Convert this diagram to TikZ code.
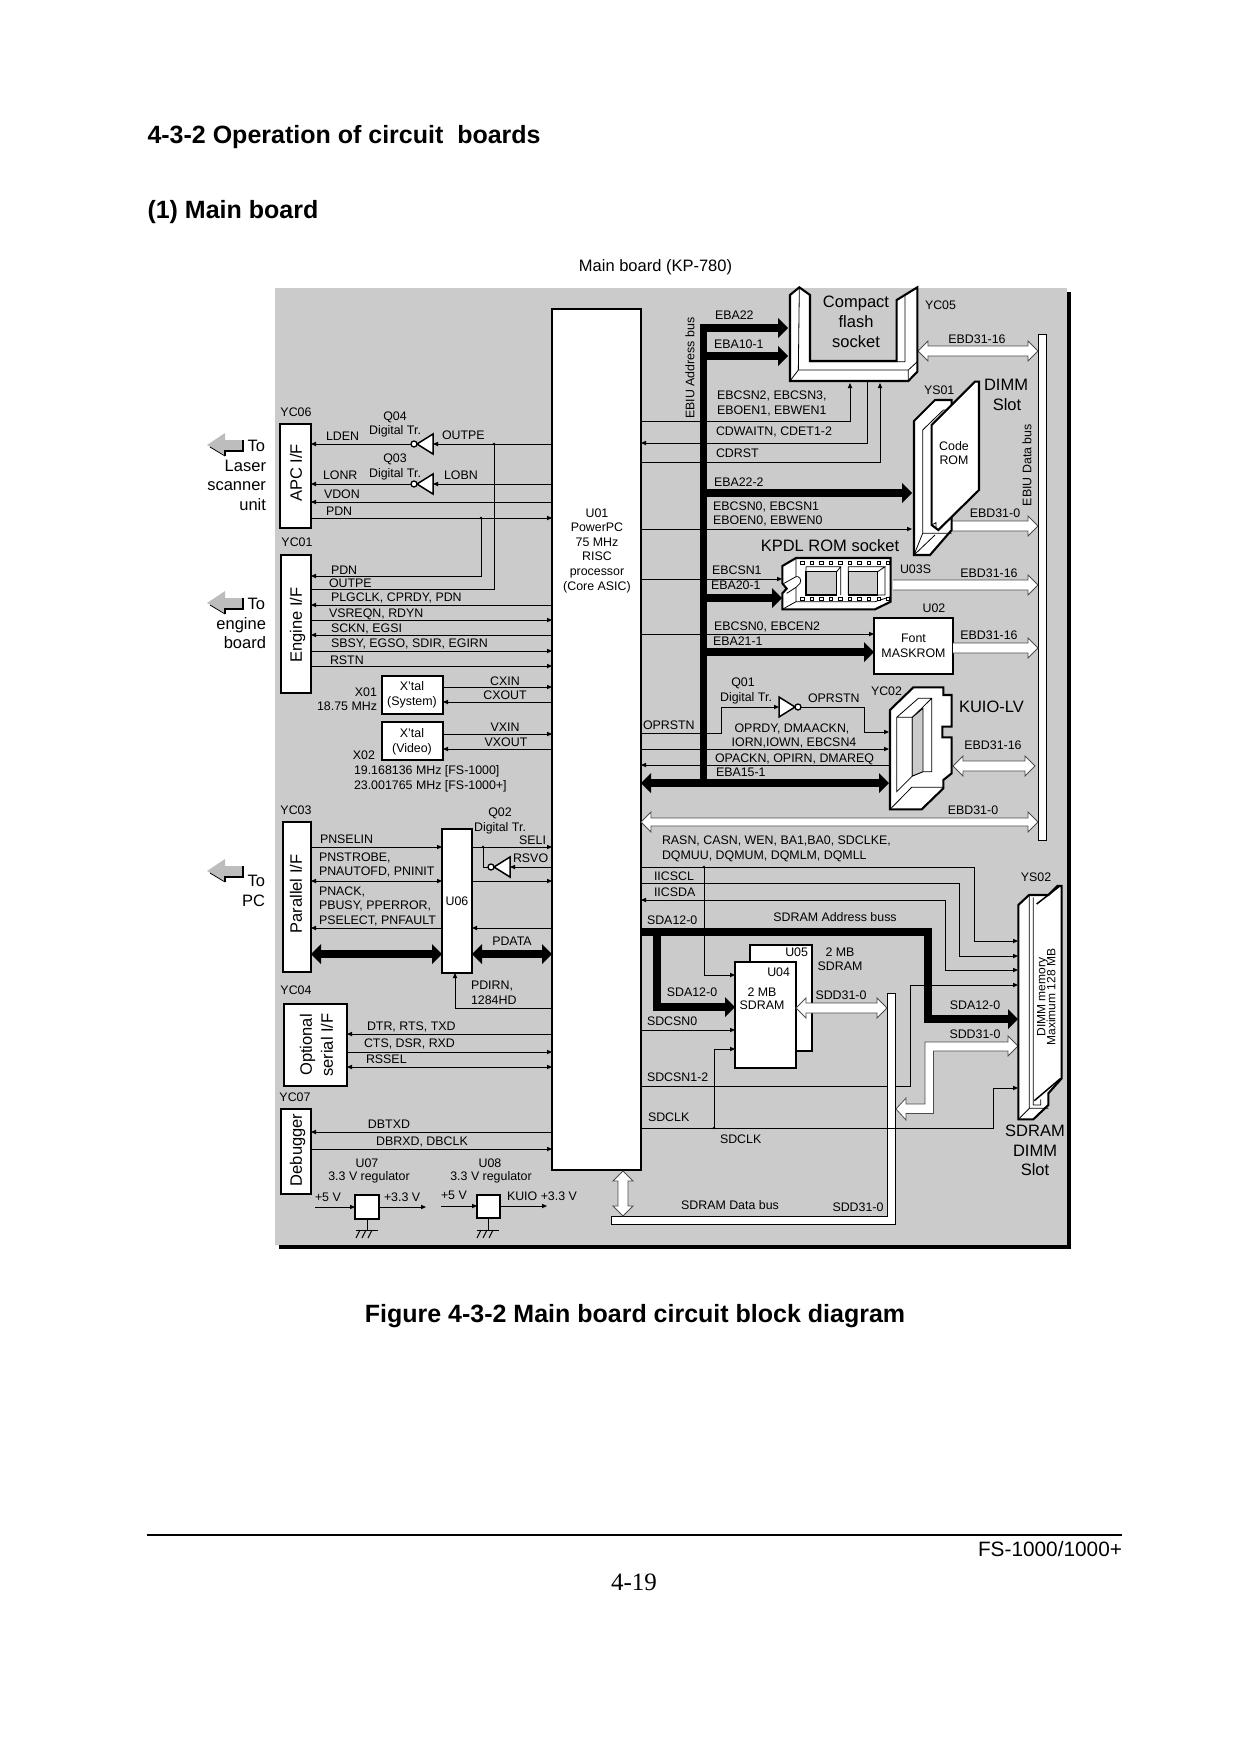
\documentclass[tikz,border=0pt]{standalone}
\usepackage{fontspec}
\setmainfont{Liberation Sans}
\newfontfamily\pgserif{Liberation Serif}
\usetikzlibrary{arrows.meta,calc}
\definecolor{boardgray}{HTML}{CBCBCB}
\definecolor{pointer}{HTML}{BDBDBD}
\tikzset{
  lbl/.style={inner sep=0pt,outer sep=0pt,font=\fontsize{12.4}{14.6}\selectfont,text height=8.9pt,text depth=0pt},
  lblg/.style={font=\fontsize{16.5}{19}\selectfont,text height=11.8pt},
  boxn/.style={draw,fill=white,line width=2.2pt,inner sep=0pt,outer sep=0pt,align=center,font=\fontsize{12.4}{14.6}\selectfont},
  wire/.style={line width=1pt},
  sig/.style={wire,-{Triangle[length=5pt,width=4.5pt,line width=0pt]}},
  sigb/.style={wire,{Triangle[length=5pt,width=4.5pt,line width=0pt]}-{Triangle[length=5pt,width=4.5pt,line width=0pt]}},
  tbus/.style={line width=8pt,line join=miter,-{Triangle[length=10pt,width=20pt,line width=0pt]}},
  tbusb/.style={line width=8pt,{Triangle[length=10pt,width=20pt,line width=0pt]}-{Triangle[length=10pt,width=20pt,line width=0pt]}},
  wbusl/.style={draw=black!70,fill=white,line width=.8pt,line join=miter},
  part/.style={draw,fill=white,line width=2.1pt,line join=miter},
  pin/.style={line width=.8pt},
  dot/.style={fill,inner sep=0pt,minimum size=2.6pt,circle},
}
\newcommand\mytl[5][]{\node[lbl,anchor=west,#1] (#2) at (#3,#4) {#5};}
\newcommand\mytc[5][]{\node[lbl,anchor=center,#1] (#2) at (#3,#4) {#5};}
\newcommand\mytr[5][]{\node[lbl,anchor=east,#1] (#2) at (#3,#4) {#5};}
\newcommand\mybox[6]{\node[boxn,minimum width={(#4-#2)*1pt},minimum height={(#5-#3)*1pt}] (#1) at ({(#2+#4)/2},{(#3+#5)/2}) {#6};}
\newcommand\mywbus[3][5]{%
  \coordinate (wA) at (#2); \coordinate (wB) at (#3);
  \coordinate (wC) at ($(wA)!10pt!(wB)$); \coordinate (wD) at ($(wB)!10pt!(wA)$);
  \draw[wbusl] (wA) -- ($(wC)!10pt!90:(wB)$) -- ($(wC)!#1pt!90:(wB)$) -- ($(wD)!#1pt!-90:(wA)$) -- ($(wD)!10pt!-90:(wA)$) -- (wB)
   -- ($(wD)!10pt!90:(wA)$) -- ($(wD)!#1pt!90:(wA)$) -- ($(wC)!#1pt!-90:(wB)$) -- ($(wC)!10pt!-90:(wB)$) -- cycle;}
\newcommand\mywtip[3][5]{%
  \coordinate (wA) at (#2); \coordinate (wB) at (#3);
  \coordinate (wD) at ($(wB)!10pt!(wA)$);
  \draw[wbusl] ($(wA)!#1pt!90:(wB)$) -- ($(wD)!#1pt!-90:(wA)$) -- ($(wD)!10pt!-90:(wA)$) -- (wB)
   -- ($(wD)!10pt!90:(wA)$) -- ($(wD)!#1pt!90:(wA)$) -- ($(wA)!#1pt!-90:(wB)$);}
\newcommand\myinvL[3]{%
  \draw[fill=white,line width=1.5pt,line join=miter] (#2,#3-10) -- (#2,#3+10) -- (#2-16,#3) -- cycle;
  \draw[fill=white,line width=1.3pt] (#2-19,#3) circle[radius=3];
  \coordinate (#1-in) at (#2,#3); \coordinate (#1-out) at (#2-22,#3);}
\newcommand\myinvR[3]{%
  \draw[fill=white,line width=1.5pt,line join=miter] (#2,#3-10) -- (#2,#3+10) -- (#2+16,#3) -- cycle;
  \draw[fill=white,line width=1.3pt] (#2+19,#3) circle[radius=3];
  \coordinate (#1-in) at (#2,#3); \coordinate (#1-out) at (#2+22,#3);}
\newcommand\mygnd[3]{%
  \draw[wire] (#1,#2) -- (#1,#3) (#1-11,#3) -- (#1+11,#3);
  \draw[wire] (#1-7,#3) -- (#1-11,#3+8) (#1-1,#3) -- (#1-5,#3+8) (#1+5,#3) -- (#1+1,#3+8);}
\newcommand\mypoint[2]{%
  \fill[pointer] (#1,#2) -- (#1+18,#2-12) -- (#1+18,#2-5) -- (#1+36,#2-5) -- (#1+36,#2+5) -- (#1+18,#2+5) -- (#1+18,#2+10) -- cycle;
  \draw[line width=1.7pt] (#1+36,#2-5) -- (#1+36,#2+6) -- (#1+18,#2+6) -- (#1+18,#2+11);
  \draw[line width=.8pt] (#1+18,#2+11) -- (#1+3,#2+2);}
\begin{document}
\begin{tikzpicture}[x=1pt,y=-1pt]
\useasboundingbox (0,0) rectangle (1240,1754);
\fill[white] (0,0) rectangle (1240,1754);
% page texts
\mytl[font=\bfseries\fontsize{25}{29}\selectfont,text height=17.9pt]{hone}{147.5}{135}{4-3-2 Operation of circuit\ \ boards}
\mytl[font=\bfseries\fontsize{25}{29}\selectfont,text height=17.9pt]{htwo}{147.5}{210}{(1) Main board}
\mytc[lblg]{mainb}{655.5}{266}{Main board (KP-780)}
\mytc[font=\bfseries\fontsize{25}{29}\selectfont,text height=17.9pt]{figcap}{635}{1314}{Figure 4-3-2 Main board circuit block diagram}
\coordinate (ruleL) at (147,1535); \coordinate (ruleR) at (1122,1535);
\draw[line width=1.7pt] (ruleL) -- (ruleR);
\mytr[font=\fontsize{20.8}{24}\selectfont,text height=15pt]{fsn}{1122}{1549}{FS-1000/1000+}
\mytc[font=\pgserif\fontsize{25}{29}\selectfont,text height=16.5pt]{pgno}{634}{1582}{4-19}
% board
\fill[black] (279,292) rectangle (1071,1249);
\fill[boardgray] (275,288) rectangle (1067,1245);
% pointers
\mypoint{207}{445}
\mypoint{207}{603}
\mypoint{207}{871}
\mytr[lblg]{tl1}{265}{446}{To}\mytr[lblg]{tl2}{266}{466}{Laser}\mytr[lblg]{tl3}{266}{485}{scanner}\mytr[lblg]{tl4}{266}{505}{unit}
\mytr[lblg]{te1}{265}{604}{To}\mytr[lblg]{te2}{266}{624}{engine}\mytr[lblg]{te3}{266}{643}{board}
\mytr[lblg]{tp1}{265}{881}{To}\mytr[lblg]{tp2}{265}{901}{PC}
% boxes, left
\node[boxn,line width=2.4pt,minimum width=89pt,minimum height=861pt] (u01) at (596.5,739.5) {};
\mybox{apc}{280}{424}{311}{528}{}
\mybox{eng}{281}{555}{311}{693}{}
\mybox{xsys}{382}{676}{443}{714}{}
\mybox{xvid}{382}{722}{443}{760}{}
\mybox{par}{283}{822}{311}{972}{}
\mybox{u06}{442}{829}{472}{973}{U06}
\mybox{ser}{284}{1004}{347}{1086}{}
\mybox{dbg}{281}{1109}{311}{1194}{}
\mybox{r07}{355}{1195}{379}{1219}{}
\mybox{r08}{477}{1195}{500}{1218}{}
\mytc[lblg,rotate=90]{apct}{296}{473}{APC I/F}
\mytc[lblg,rotate=90]{engt}{296}{625}{Engine I/F}
\mytc[lblg,rotate=90]{part}{296}{894}{Parallel I/F}
\mytc[lblg,rotate=90]{sert1}{306}{1045}{Optional}
\mytc[lblg,rotate=90]{sert2}{327}{1045}{serial I/F}
\mytc[lblg,rotate=90]{dbgt}{296}{1150}{Debugger}
\node[font=\fontsize{12.4}{14.6}\selectfont,align=center,inner sep=0pt] (u01t) at (597,550.5) {U01\\PowerPC\\75 MHz\\RISC\\processor\\(Core ASIC)};
\node[font=\fontsize{12.4}{14.8}\selectfont,align=center,inner sep=0pt] (xst) at (412,695) {X'tal\\(System)};
\node[font=\fontsize{12.4}{14.8}\selectfont,align=center,inner sep=0pt] (xvt) at (412,741.5) {X'tal\\(Video)};
% inverters
\myinvL{q04}{433}{444}
\myinvL{q03}{433}{484}
\myinvL{q02}{510}{867}
\myinvR{q01}{779}{707}
% left signals
\draw[sig] (u01.west|-0,444) -- (q04-in);
\draw[sig] (q04-out) -- (apc.east|-0,444);
\coordinate (jout) at (494,444);
\node[dot] (jouted) at (jout) {};
\draw[wire] (jout) -- (494,589) -- (eng.east|-0,589);
\draw[sig] (u01.west|-0,484) -- (q03-in);
\draw[sig] (q03-out) -- (apc.east|-0,484);
\draw[sig] (u01.west|-0,502) -- (apc.east|-0,502);
\draw[sig] (apc.east|-0,518) -- (u01.west|-0,518);
\coordinate (jpdn) at (481,518);
\node[dot] (jpdned) at (jpdn) {};
\draw[sig] (jpdn) -- (481,576) -- (eng.east|-0,576);
\draw[sig] (u01.west|-0,605) -- (eng.east|-0,605);
\draw[sig] (eng.east|-0,620) -- (u01.west|-0,620);
\draw[sig] (u01.west|-0,635) -- (eng.east|-0,635);
\draw[sig] (eng.east|-0,651) -- (u01.west|-0,651);
\draw[sig] (eng.east|-0,666) -- (u01.west|-0,666);
\draw[sig] (xsys.east|-0,687) -- (u01.west|-0,687);
\draw[sig] (u01.west|-0,702) -- (xsys.east|-0,702);
\draw[sig] (xvid.east|-0,734) -- (u01.west|-0,734);
\draw[sig] (u01.west|-0,749) -- (xvid.east|-0,749);
\draw[sig] (par.east|-0,847) -- (u06.west|-0,847);
\draw[sig] (u06.east|-0,847) -- (u01.west|-0,847);
\coordinate (jsel) at (483,847);
\node[dot] (jseled) at (jsel) {};
\draw[wire] (jsel) -- (483,867) -- (q02-out);
\draw[sig] (u01.west|-0,867) -- (q02-in);
\draw[sigb] (par.east|-0,881) -- (u06.west|-0,881);
\draw[sig] (u06.east|-0,881) -- (u01.west|-0,881);
\draw[sig] (u06.west|-0,928) -- (par.east|-0,928);
\draw[sig] (u01.west|-0,928) -- (u06.east|-0,928);
\draw[tbusb] (par.east|-0,954) -- (u06.west|-0,954);
\draw[tbusb] (u06.east|-0,954) -- (u01.west|-0,954);
\draw[sig] (u01.west|-0,1008) -- (455,1008) -- (u06.south-|455,0);
\draw[sig] (u01.west|-0,1034) -- (ser.east|-0,1034);
\draw[sig] (ser.east|-0,1052) -- (u01.west|-0,1052);
\draw[sigb] (ser.east|-0,1067) -- (u01.west|-0,1067);
\draw[sig] (u01.west|-0,1132) -- (dbg.east|-0,1132);
\draw[sig] (dbg.east|-0,1149) -- (u01.west|-0,1149);
\coordinate (in07) at (315,1207); \coordinate (out07) at (426,1207);
\coordinate (in08) at (441,1206); \coordinate (out08) at (547,1206);
\draw[sig] (in07) -- (r07.west|-in07);
\draw[sig] (r07.east|-out07) -- (out07);
\draw[sig] (in08) -- (r08.west|-in08);
\draw[sig] (r08.east|-out08) -- (out08);
\mygnd{367}{1219}{1230}
\mygnd{488}{1218}{1230}
% left labels
\mytc{yc06}{296}{412}{YC06}\mytc{yc01}{297}{542}{YC01}\mytc{yc03}{296}{810}{YC03}\mytc{yc04}{296}{990}{YC04}\mytc{yc07}{295}{1097}{YC07}
\mytl{ldeng}{326}{436}{LDEN}\mytc{q04t}{395}{416}{Q04}\mytc{q04d}{395}{430}{Digital Tr.}\mytl{outpa}{442}{435}{OUTPE}
\mytc{q03t}{395}{458}{Q03}\mytc{q03d}{395}{473}{Digital Tr.}\mytl{lonr}{323}{475}{LONR}\mytl{lobn}{444}{475}{LOBN}
\mytl{vdon}{324}{494}{VDON}\mytl{pdna}{326}{511}{PDN}\mytl{pdnb}{331}{570}{PDN}\mytl{outpb}{329}{583}{OUTPE}
\mytl{plg}{331}{597}{PLGCLK, CPRDY, PDN}\mytl{vsr}{329}{613}{VSREQN, RDYN}\mytl{sck}{331}{628}{SCKN, EGSI}\mytl{sbs}{331}{643}{SBSY, EGSO, SDIR, EGIRN}\mytl{rst}{330}{660}{RSTN}
\mytc{cxi}{505}{681}{CXIN}\mytc{cxo}{505}{695}{CXOUT}\mytc{vxi}{505}{727}{VXIN}\mytc{vxo}{506}{742}{VXOUT}
\mytc{x01}{366}{692}{X01}\mytr{x01f}{377}{706}{18.75 MHz}\mytc{x02}{364}{755}{X02}
\mytl{x02a}{354}{770}{19.168136 MHz [FS-1000]}\mytl{x02b}{354}{785}{23.001765 MHz [FS-1000+]}
\mytl{pns}{320}{839}{PNSELIN}\mytl{pnt}{319}{857}{PNSTROBE,}\mytl{pna}{319}{871}{PNAUTOFD, PNINIT}
\mytl{pnk}{319}{891}{PNACK,}\mytl{pbu}{319}{905}{PBUSY, PPERROR,}\mytl{pse}{319}{920}{PSELECT, PNFAULT}
\mytc{q02t}{500}{812}{Q02}\mytc{q02d}{500}{827}{Digital Tr.}\mytr{seli}{546}{840}{SELI}\mytl{rsvo}{513}{858}{RSVO}
\mytc{pdat}{512}{941}{PDATA}\mytl{pdir}{471}{985}{PDIRN,}\mytl{p128}{471}{1000}{1284HD}
\mytl{dtr}{367}{1026}{DTR, RTS, TXD}\mytl{cts}{364}{1043}{CTS, DSR, RXD}\mytl{rss}{366}{1059}{RSSEL}
\mytc{dbtx}{389}{1124}{DBTXD}\mytc{dbrx}{422}{1141}{DBRXD, DBCLK}
\mytc{u07}{367}{1163}{U07}\mytc{u07r}{369}{1176}{3.3 V regulator}\mytc{u08}{490}{1163}{U08}\mytc{u08r}{491}{1176}{3.3 V regulator}
\mytl{p5a}{315}{1197}{+5 V}\mytl{p33a}{384}{1197}{+3.3 V}\mytl{p5b}{441}{1195}{+5 V}\mytl{kui}{507}{1196}{KUIO +3.3 V}
% right rail
\node[draw,fill=white,line width=.9pt,inner sep=0pt,outer sep=0pt,minimum width=8pt,minimum height=506pt] (rail) at (1042,587) {};
\coordinate (ys02w) at (1018,0);
\coordinate (kuiow) at (889,0);
\coordinate (socketw) at (782,0);
\coordinate (dimmw) at (912,0);
% right signals
\draw[sig] (u01.east|-0,421) -- (850,421) -- (850,383);
\draw[sig] (867,381) -- (867,443) -- (u01.east|-0,443);
\draw[sig] (u01.east|-0,462) -- (880,462) -- (880,383);
\draw[sig] (u01.east|-0,529) -- (dimmw|-0,529);
\draw[sig] (u01.east|-0,579) -- (socketw|-0,579);
\mybox{fontr}{874}{618}{953}{674}{Font\\MASKROM}
\draw[sig] (u01.east|-0,634) -- (fontr.west|-0,634);
\draw[sig] (u01.east|-0,733) -- (721,733) -- (721,707) -- (q01-in);
\draw[sig] (q01-out) -- (864,707) -- (864,732) -- (kuiow|-0,732);
\draw[sig] (u01.east|-0,749) -- (kuiow|-0,749);
\draw[sig] (kuiow|-0,765) -- (u01.east|-0,765);
% thick address bus
\draw[line width=7pt] (703,323.5) -- (703,783);
\draw[tbus] (699.5,328) -- (788,328);
\draw[tbus] (703,356) -- (788,356);
\draw[tbus] (703,493) -- (dimmw|-0,493);
\draw[tbus] (703,598) -- (socketw|-0,598);
\draw[tbus] (703,652) -- (fontr.west|-0,652);
\draw[tbusb] (u01.east|-0,783) -- (kuiow|-0,783);
% white buses
\mywbus{918,351}{rail.west|-0,351}
\mywtip{952,526}{rail.west|-0,526}
\mywtip{893,585}{rail.west|-0,585}
\mywtip{fontr.east|-0,648}{rail.west|-0,648}
\mywbus{953,766}{1035,766}
\mywbus[4]{u01.east|-0,822}{rail.west|-0,822}
% SDRAM
\node[boxn,minimum width=62pt,minimum height=106pt] (u05) at (781,998) {};
\node[boxn,minimum width=61pt,minimum height=106pt] (u04) at (765.5,1015) {};
\draw[sig] (u01.east|-0,867) -- (974,867) -- (974,941) -- (ys02w|-0,941);
\coordinate (jras) at (704,867);
\node[dot] (jrased) at (jras) {};
\draw[sig] (u01.east|-0,883) -- (959,883) -- (959,956) -- (ys02w|-0,956);
\draw[sig] (945,970) -- (ys02w|-0,970);
\draw[wire] (945,900) -- (945,970);
\draw[sig] (945,900) -- (u01.east|-0,900);
\draw[sig] (u01.east|-0,1086) -- (910,1086) -- (910,985) -- (ys02w|-0,985);
\draw[tbus] (u01.east|-0,932) -- (928,932) -- (928,1019) -- (ys02w|-0,1019);
\draw[tbus] (657,932) -- (657,1007) -- (u04.west|-0,1007);
\draw[sig] (jras) -- (704,975) -- (u04.west|-0,975);
\draw[sig] (u01.east|-0,1030) -- (u04.west|-0,1030);
% SDRAM data rail and bent arrow
\coordinate (sdrtop) at (887,1008); \coordinate (sdrbend) at (896,1109); \coordinate (sdrbot) at (623,1216);
\draw[wbusl,draw=black,line width=.9pt] (887,993) -- (895,993) -- (895,1224) -- (611,1224) -- (611,1216) -- (887,1216) -- cycle;
\mywbus{u04.east|-0,1008}{sdrtop}
\mywbus{623,1171}{sdrbot}
\draw[wbusl] (ys02w|-0,1046) -- (1008,1036) -- (1008,1042) -- (925,1042) -- (925,1104) -- (906,1104) -- (906,1098) -- (sdrbend) -- (906,1120) -- (906,1113.5) -- (933.5,1113.5) -- (933.5,1051) -- (1008,1051) -- (1008,1056) -- cycle;
\draw[sig] (u01.east|-0,1128) -- (993,1128) -- (993,1088) -- (ys02w|-0,1088);
\coordinate (jclk) at (714,1128);
\node[dot] (jclked) at (jclk) {};
\draw[sig] (jclk) -- (714,1049) -- (u04.west|-0,1049);
% Compact flash socket
\begin{scope}[shift={(630,280)},x=.33333pt,y=-.33333pt]
\draw[part] (480,45) -- (508,22) -- (540,45) -- (540,243) -- (800,243) -- (800,60) -- (862,22) -- (862,275) -- (835,303) -- (480,303) -- cycle;
\draw[pin] (508,22) -- (505,270) -- (480,303) (505,270) -- (835,270) -- (835,303) (835,270) -- (862,245) (825,43) -- (825,245) -- (540,245);
% DIMM slot
\draw[part] (852,423) -- (915,360) -- (965,360) -- (965,750) -- (900,825) -- (852,825) -- cycle;
\draw[pin] (878,450) -- (940,390) -- (965,390) (878,450) -- (878,760) -- (852,825) (878,760) -- (965,760) (915,765) -- (852,825);
\draw[part] (905,435) -- (1035,305) -- (1047,305) -- (1047,630) -- (925,750) -- (905,735) -- cycle;
\draw[pin] (905,735) -- (918,728) -- (918,745);
\end{scope}
% KPDL socket
\begin{scope}[shift={(770,550)},x=.33333pt,y=-.33333pt]
\draw[part] (37,48) -- (78,24) -- (362,24) -- (362,155) -- (315,178) -- (37,178) -- (37,130) -- (50,116) -- (37,100) -- cycle;
\draw[pin] (78,24) -- (78,80) .. controls (88,78) and (96,88) .. (90,100) -- (78,112) -- (78,155) -- (37,178) (78,155) -- (315,155) -- (362,140);
\draw[pin] (78,80) -- (42,100) (78,112) -- (50,130);
\draw[line width=1.1pt,fill=boardgray] (108,65) rectangle (200,135);
\draw[line width=1.1pt,fill=boardgray] (235,65) rectangle (323,135);
\draw[pin] (108,50) -- (212,50) -- (200,65) (108,50) -- (108,65) (235,50) -- (345,50) -- (323,65) (235,50) -- (235,135) (212,50) -- (212,135) (345,50) -- (345,135) -- (323,135);
\foreach \i in {0,...,9}{
  \draw[line width=.8pt,fill=white] (97+28.6*\i-5,33) rectangle (97+28.6*\i+5,43);
  \draw[line width=.8pt,fill=white] (97+28.6*\i-5,141) rectangle (97+28.6*\i+5,151);
}
\end{scope}
% KUIO connector
\begin{scope}[shift={(880,680)},x=.33333pt,y=-.33333pt]
\draw[part] (30,90) -- (100,22) -- (190,22) -- (190,45) -- (215,45) -- (215,140) -- (187,140) -- (187,172) -- (215,172) -- (215,280) -- (190,300) -- (190,325) -- (125,388) -- (30,388) -- cycle;
\draw[pin] (50,112) -- (115,55) -- (155,55) -- (155,275) -- (129,275) -- (97,288) (50,112) -- (50,335) -- (97,288) -- (97,112) -- (50,112) (97,112) -- (155,55);
\fill[boardgray] (97,112) -- (129,85) -- (129,275) -- (97,288) -- cycle;
\draw[pin] (97,112) -- (129,85) -- (129,275) -- (97,288) -- cycle;
\draw[pin] (30,388) -- (95,322) -- (190,322);
\end{scope}
% SDRAM DIMM slot
\begin{scope}[shift={(990,860)},x=.33333pt,y=-.33333pt]
\draw[part] (85,135) -- (117,105) -- (175,105) -- (202,78) -- (215,78) -- (215,655) -- (175,700) -- (175,735) -- (130,778) -- (85,778) -- cycle;
\draw[pin] (118,105) -- (118,745) -- (85,778) (118,745) -- (175,745) (130,112) -- (130,735) -- (152,735) -- (152,718);
\draw[pin,line width=1.5pt] (133,722) -- (212,655);
\draw[line width=1.5pt] (140,132) -- (207,80);
\end{scope}
% right labels
\mytc[lblg]{cf1}{856}{302}{Compact}\mytc[lblg]{cf2}{856}{322}{flash}\mytc[lblg]{cf3}{856}{342}{socket}
\mytl{yc05}{925}{305}{YC05}\mytl{eba22}{715}{315}{EBA22}\mytl{eba10}{714}{344}{EBA10-1}
\mytc[rotate=90]{ebiua}{690}{368}{EBIU Address bus}\mytc[rotate=90]{ebiud}{1027}{465}{EBIU Data bus}
\mytc{ebd1}{977}{339}{EBD31-16}
\mytl{ecs2}{717}{395}{EBCSN2, EBCSN3,}\mytl{eoe1}{717}{410}{EBOEN1, EBWEN1}
\mytl{cdw}{716}{431}{CDWAITN, CDET1-2}\mytl{cdr}{716}{453}{CDRST}
\mytl{eba222}{714}{482}{EBA22-2}\mytl{ecs0}{713}{506}{EBCSN0, EBCSN1}\mytl{eoe0}{713}{520}{EBOEN0, EBWEN0}
\mytc[lblg]{kpdl}{830}{545.5}{KPDL ROM socket}
\mytl{ys01}{924}{390}{YS01}\mytc[lblg]{dimm}{1006}{385}{DIMM}\mytc[lblg]{slot}{1007}{405}{Slot}
\mytc{code}{954}{446}{Code}\mytc{rom}{954}{460}{ROM}
\mytc{ebd2}{995}{513}{EBD31-0}
\mytl{ecs1}{712}{570}{EBCSN1}\mytl{eba20}{711}{585}{EBA20-1}\mytl{u03s}{900}{569}{U03S}\mytc{ebd3}{989}{573}{EBD31-16}
\mytc{u02}{934}{608}{U02}\mytl{ecs0b}{714}{626}{EBCSN0, EBCEN2}\mytl{eba21}{713}{641}{EBA21-1}\mytc{ebd4}{989}{635}{EBD31-16}
\mytl{opr1}{643}{725}{OPRSTN}\mytc{q01t}{743}{682}{Q01}\mytc{q01d}{746}{697}{Digital Tr.}\mytl{opr2}{808}{698}{OPRSTN}
\mytc{opd}{792}{728}{OPRDY, DMAACKN,}\mytc{ior}{794}{742}{IORN,IOWN, EBCSN4}\mytl{opa}{715}{758}{OPACKN, OPIRN, DMAREQ}\mytl{eba15}{716}{772}{EBA15-1}
\mytl{yc02}{871}{691}{YC02}\mytl[lblg]{kuio}{959}{707}{KUIO-LV}\mytc{ebd5}{993}{745}{EBD31-16}\mytc{ebd6}{973}{810}{EBD31-0}
\mytl{ras}{662}{840}{RASN, CASN, WEN, BA1,BA0, SDCLKE,}\mytl{dqm}{662}{855}{DQMUU, DQMUM, DQMLM, DQMLL}
\mytl{iicl}{654}{876}{IICSCL}\mytl{iicd}{654}{892}{IICSDA}\mytl{sda1}{647}{920}{SDA12-0}\mytc{sdab}{835}{917}{SDRAM Address buss}
\mytr{u05t}{808}{952}{U05}\mytr{u04t}{790}{972}{U04}\mytc{mb5}{840}{952}{2 MB}\mytc{sd5}{840}{966}{SDRAM}\mytc{mb4}{762}{992}{2 MB}\mytc{sd4}{762}{1005}{SDRAM}
\mytc{sda2}{692}{992}{SDA12-0}\mytc{sdd1}{841}{995}{SDD31-0}\mytl{sdc0}{647}{1021}{SDCSN0}\mytl{sdc1}{647}{1077}{SDCSN1-2}
\mytc{sda3}{975}{1005}{SDA12-0}\mytc{sdd2}{975}{1034}{SDD31-0}
\mytl{clk1}{648}{1117}{SDCLK}\mytl{clk2}{720}{1139}{SDCLK}\mytc{sdbus}{730}{1205}{SDRAM Data bus}\mytc{sdd3}{858}{1207}{SDD31-0}
\mytc{ys02}{1036}{877}{YS02}
\mytc[rotate=90,font=\fontsize{12}{14}\selectfont]{dm1}{1041}{997}{DIMM memory}\mytc[rotate=90,font=\fontsize{12}{14}\selectfont]{dm2}{1051}{997}{Maximum 128 MB}
\mytc[lblg]{sl1}{1035}{1131}{SDRAM}\mytc[lblg]{sl2}{1035}{1151}{DIMM}\mytc[lblg]{sl3}{1035}{1170}{Slot}
\end{tikzpicture}
\end{document}
